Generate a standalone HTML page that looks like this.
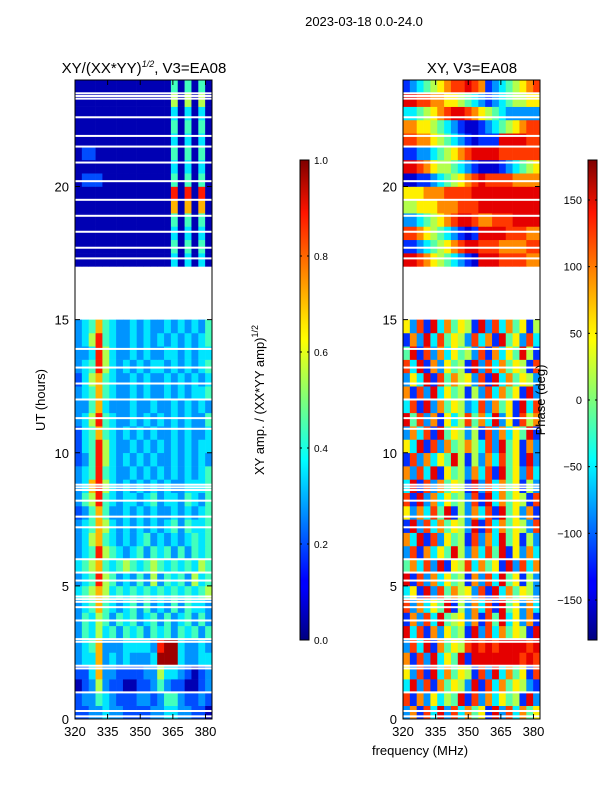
<!DOCTYPE html>
<html><head><meta charset="utf-8"><style>
body{margin:0;background:#fff;}
svg text{font-family:"Liberation Sans","DejaVu Sans",sans-serif;fill:#000;}
</style></head><body>
<svg id="fig" width="600" height="800" xmlns="http://www.w3.org/2000/svg">
<defs>
<linearGradient id="jet" x1="0" y1="1" x2="0" y2="0">
<stop offset="0" stop-color="#00007f"/><stop offset="0.11" stop-color="#0000ff"/><stop offset="0.125" stop-color="#0000ff"/>
<stop offset="0.34" stop-color="#00dcff"/><stop offset="0.375" stop-color="#00ffff"/><stop offset="0.5" stop-color="#7dff7a"/>
<stop offset="0.625" stop-color="#ffff00"/><stop offset="0.66" stop-color="#ffe600"/><stop offset="0.89" stop-color="#ff1400"/>
<stop offset="1" stop-color="#7f0000"/></linearGradient>
</defs>
<text x="364" y="26" font-size="13" text-anchor="middle">2023-03-18 0.0-24.0</text>
<g id="left"></g>
<g id="right"></g>
<text x="144" y="73" font-size="15" text-anchor="middle">XY/(XX*YY)<tspan dy="-6" font-size="9" font-style="italic">1/2</tspan><tspan dy="6">, V3=EA08</tspan></text>
<text x="472" y="73" font-size="15" text-anchor="middle">XY, V3=EA08</text>
<text transform="translate(45,400) rotate(-90)" font-size="13" text-anchor="middle">UT (hours)</text>
<text x="420" y="755" font-size="13" text-anchor="middle">frequency (MHz)</text>
<text transform="translate(264,400) rotate(-90)" font-size="13" text-anchor="middle">XY amp. / (XX*YY amp)<tspan dy="-6" font-size="9">1/2</tspan></text>
<text transform="translate(545,400) rotate(-90)" font-size="13" text-anchor="middle">Phase (deg)</text>
<g id="cb1"></g>
<g id="cb2"></g>
</svg>
<script>
const ampRows=["22334332222334433221","23354322233235532232","12363221122353221123","22473322223364432123","34473434333499943344","34573334444389943343","35464535453545354535","35465354534535345353","34575434535343535443","45676454545454545456","34586534353635453645","45675456545654545465","34586543453545353545","34675434345343434545","34576434343434535445","23575334343433434345","35685434434534435435","34786434343434334445","34585433434343434345","23586434343433434343","24586433434343434344","24575434343433434334","34685433434343434335","33574333433433434343","34575433434334343445","24675433434334343434","34586434343443434345","33486433434334434344","34685433434343434345","34575433434334343435","","","","","11111111111111414141","11111111111111515151","11111111111111414141","11111111111111515151","11111111111111717171","11111111111111818181","12221111111111515151","11111111111111414141","12211111111111515151","11111111111111414141","11111111111111515151","11111111111111414141","11111111111111616161","11111111111111515151"];
const ampLevels=[0.02,0.05,0.2,0.27,0.35,0.44,0.55,0.7,0.85,0.97];
const phaseRows=["27183928374619283746","81726354918273645192","39281746529183746521","62819374651829374618","71829364919999999898","28391746589898999989","93817264519283746519","17283945627184936271","82736491527381946273","36192847562819374652","91827364517283946152","47382916583746192837","28173649527384916273","73918264518273946152","19283746529183746528","62738491527381946271","81927364528193746518","39182746519283746152","72839164527381946283","18273649515273846192","63918274575382946172","27381946525182736491","94827163584739261857","38192746523827461938","71829364515283746192","26391847562819374652","83917264519283746518","49182736452817364951","17293846528371946283","62819374651928374615","","","","","99876543210999888877","11234567899888777788","88765432101999988877","22345678998778889999","55666777888999999999","66677788889999999999","00112345678988887777","99876554321000123456","11223456789999888888","88776543210111999988","77665432100123456788","33456789987654322222","99887766543212345566","12345678898712345678"];
const phaseLevels=[0.08,0.17,0.27,0.36,0.46,0.55,0.64,0.74,0.82,0.9];
const flaggedHours=[0.1,0.3,1.0,1.9,2.0,2.9,3.0,3.7,4.2,4.4,4.5,4.6,5.2,5.5,6.0,7.2,7.6,8.2,8.6,8.7,8.8,10.9,11.3,12.0,12.6,13.2,13.9,17.3,17.7,18.3,18.9,19.5,20.2,20.9,21.5,21.9,22.6,23.3,23.4,23.5];
const yTicks=[0,5,10,15,20];
const xTicks=[320,335,350,365,380];
const ampTicks=[0,0.2,0.4,0.6,0.8,1.0];
const phaseTicks=[150,100,50,0,-50,-100,-150];
const NS="http://www.w3.org/2000/svg";
const Y0=719,Y1=80,F0=320,F1=383,H0=0,H1=24;
function yS(h){return Y0+(h-H0)/(H1-H0)*(Y1-Y0);}
function jet(v){v=Math.max(0,Math.min(1,v));
 const r=Math.min(4*v-1.5,-4*v+4.5),g=Math.min(4*v-0.5,-4*v+3.5),b=Math.min(4*v+0.5,-4*v+2.5);
 const c=x=>Math.round(255*Math.max(0,Math.min(1,x)));return `rgb(${c(r)},${c(g)},${c(b)})`;}
function mk(tag,attrs,parent){const e=document.createElementNS(NS,tag);for(const k in attrs)e.setAttribute(k,attrs[k]);parent.appendChild(e);return e;}
function panel(gid,x0,x1,rows,valfn){
 const g=document.getElementById(gid);
 const xS=f=>x0+(f-F0)/(F1-F0)*(x1-x0);
 const nr=rows.length,dh=(H1-H0)/nr;
 rows.forEach((row,i)=>{if(!row)return;const nc=row.length,df=(F1-F0)/nc;
  for(let j=0;j<nc;j++){const xa=xS(F0+j*df),xb=xS(F0+(j+1)*df),ya=yS(i*dh+dh),yb=yS(i*dh);
   const r=mk('rect',{x:xa,y:ya,width:xb-xa+0.3,height:yb-ya+0.3,fill:jet(valfn(+row[j]))},g);
   
   }});
 flaggedHours.forEach(h=>{const r=mk('rect',{x:x0,y:yS(h)-1,width:x1-x0,height:2,fill:'#fff'},g);
   
   });
 const fr=mk('rect',{x:x0,y:Y1,width:x1-x0,height:Y0-Y1,fill:'none',stroke:'#000','stroke-width':1},g);
 
 
 yTicks.forEach(t=>{const y=yS(t);
  mk('line',{x1:x0,x2:x0+5,y1:y,y2:y,stroke:'#000'},g);mk('line',{x1:x1,x2:x1-5,y1:y,y2:y,stroke:'#000'},g);
  const tx=mk('text',{x:x0-6,y:y+5,'font-size':13,'text-anchor':'end'},g);tx.textContent=t;
  
  });
 xTicks.forEach(t=>{const x=xS(t);
  mk('line',{x1:x,x2:x,y1:Y0,y2:Y0-5,stroke:'#000'},g);mk('line',{x1:x,x2:x,y1:Y1,y2:Y1+5,stroke:'#000'},g);
  const tx=mk('text',{x:x,y:Y0+17,'font-size':13,'text-anchor':'middle'},g);tx.textContent=t;
  
  });
}
panel('left',75,212,ampRows,d=>ampLevels[d]);
panel('right',403,540,phaseRows,d=>phaseLevels[d]);
function cbar(gid,x,vmin,vmax,ticks,fmt,fs,left){
 const g=document.getElementById(gid);const t0=160,t1=640;
 mk('rect',{x:x,y:t0,width:9,height:t1-t0,fill:'url(#jet)',stroke:'#000','stroke-width':1},g);
 ticks.forEach(v=>{const y=t1-(v-vmin)/(vmax-vmin)*(t1-t0);
  mk('line',{x1:x,x2:x+2,y1:y,y2:y,stroke:'#000'},g);mk('line',{x1:x+9,x2:x+7,y1:y,y2:y,stroke:'#000'},g);
  const tx=mk('text',left?{x:x-6,y:y+4,'font-size':fs,'text-anchor':'end'}:{x:x+14,y:y+4,'font-size':fs},g);tx.textContent=fmt(v);
  
  });
}
cbar('cb1',300,0,1,ampTicks,v=>v.toFixed(1),10,false);
cbar('cb2',588,-180,180,phaseTicks,v=>(v<0?'\u2212'+(-v):''+v),11,true);
</script>
</body></html>
